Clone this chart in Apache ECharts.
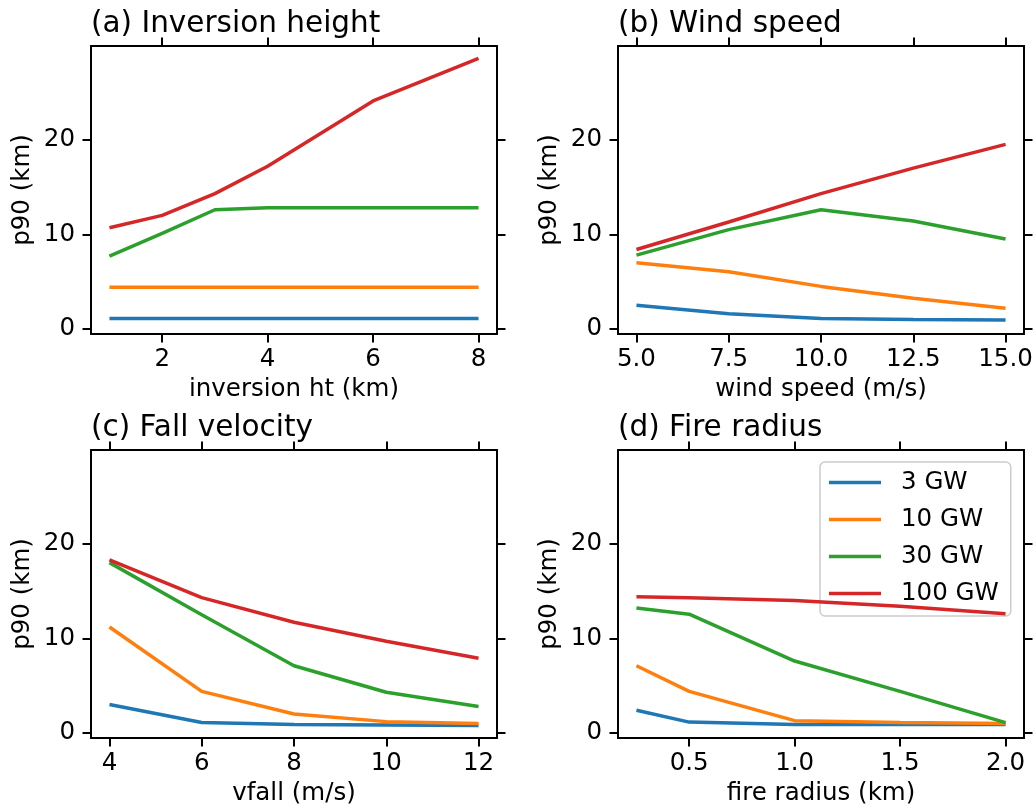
<!DOCTYPE html>
<html>
<head>
<meta charset="utf-8">
<script src="https://cdn.jsdelivr.net/npm/echarts@6/dist/echarts.min.js"></script>
<style>
html,body{margin:0;padding:0;background:#fff;}
#chart{width:1036px;height:809px;}
</style>
</head>
<body>
<div id="chart"></div>
<script>
// ---- data ----
const SERIES_NAMES = ['3 GW', '10 GW', '30 GW', '100 GW'];
const COLORS = ['#1f77b4', '#ff7f0e', '#2ca02c', '#d62728'];

const PANEL_TITLES = ['(a) Inversion height', '(b) Wind speed', '(c) Fall velocity', '(d) Fire radius'];
const X_NAMES = ['inversion ht (km)', 'wind speed (m/s)', 'vfall (m/s)', 'fire radius (km)'];
const Y_NAME = 'p90 (km)';

// (a) inversion height
const INV_HT = [1, 2, 3, 4, 6, 8];
const INV_3GW = [1.1, 1.1, 1.1, 1.1, 1.1, 1.1];
const INV_10GW = [4.4, 4.4, 4.4, 4.4, 4.4, 4.4];
const INV_30GW = [7.7, 10.1, 12.6, 12.8, 12.8, 12.8];
const INV_100GW = [10.7, 12.0, 14.3, 17.2, 24.1, 28.6];

// (b) wind speed
const WIND = [5, 7.5, 10, 12.5, 15];
const WIND_3GW = [2.5, 1.6, 1.1, 1.0, 0.95];
const WIND_10GW = [7.0, 6.05, 4.5, 3.25, 2.2];
const WIND_30GW = [7.8, 10.5, 12.6, 11.4, 9.5];
const WIND_100GW = [8.4, 11.3, 14.3, 17.0, 19.5];

// (c) fall velocity
const VFALL = [4, 6, 8, 10, 12];
const VFALL_3GW = [3.0, 1.1, 0.9, 0.85, 0.8];
const VFALL_10GW = [11.2, 4.4, 2.0, 1.2, 1.0];
const VFALL_30GW = [18.0, 12.5, 7.1, 4.3, 2.8];
const VFALL_100GW = [18.3, 14.3, 11.7, 9.7, 7.9];

// (d) fire radius
const RADIUS = [0.25, 0.5, 1.0, 1.5, 2.0];
const RADIUS_3GW = [2.4, 1.15, 0.9, 0.9, 0.9];
const RADIUS_10GW = [7.1, 4.4, 1.3, 1.1, 1.0];
const RADIUS_30GW = [13.2, 12.55, 7.6, 4.4, 1.1];
const RADIUS_100GW = [14.4, 14.3, 14.0, 13.4, 12.6];

// tick labels
const Y_TICKS = [0, 10, 20];
const X_TICKS_A = [2, 4, 6, 8];
const X_TICKS_B = [5, 7.5, 10, 12.5, 15];
const X_TICKS_C = [4, 6, 8, 10, 12];
const X_TICKS_D = [0.5, 1.0, 1.5, 2.0];

// axis ranges
const Y_RANGE = [-0.53, 29.9];
const X_RANGES = [[0.65, 8.35], [4.5, 15.5], [3.6, 12.4], [0.1625, 2.0875]];

// ---- layout ----
const FONT = 'DejaVu Sans';
const TICK_FS = 24.5;
const TITLE_FS = 29.5;
const GRIDS = [
  {left: 91, top: 46, width: 406, height: 288},
  {left: 618, top: 46, width: 406, height: 288},
  {left: 91, top: 450, width: 406, height: 288},
  {left: 618, top: 450, width: 406, height: 288}
];
const panels = [
  {x: INV_HT, ys: [INV_3GW, INV_10GW, INV_30GW, INV_100GW], ticks: X_TICKS_A, dec: 0},
  {x: WIND, ys: [WIND_3GW, WIND_10GW, WIND_30GW, WIND_100GW], ticks: X_TICKS_B, dec: 1},
  {x: VFALL, ys: [VFALL_3GW, VFALL_10GW, VFALL_30GW, VFALL_100GW], ticks: X_TICKS_C, dec: 0},
  {x: RADIUS, ys: [RADIUS_3GW, RADIUS_10GW, RADIUS_30GW, RADIUS_100GW], ticks: X_TICKS_D, dec: 1}
];

const grid = [], xAxis = [], yAxis = [], series = [], title = [];
const lineW = 2;
const tickLen = 8.5;

panels.forEach((p, i) => {
  grid.push(Object.assign({containLabel: false, show: false}, GRIDS[i]));
  title.push({
    text: PANEL_TITLES[i], left: GRIDS[i].left, top: GRIDS[i].top - 37, padding: 0,
    textStyle: {fontFamily: FONT, fontSize: TITLE_FS, fontWeight: 'normal', color: '#000'}
  });
  const common = (pos) => ({
    axisLine: {show: true, onZero: false, lineStyle: {color: '#000', width: lineW}},
    splitLine: {show: false}
  });
  // bottom x
  xAxis.push(Object.assign(common(), {
    type: 'value', gridIndex: i, position: 'bottom', min: X_RANGES[i][0], max: X_RANGES[i][1],
    name: X_NAMES[i], nameLocation: 'middle', nameGap: 43,
    nameTextStyle: {fontFamily: FONT, fontSize: TICK_FS, color: '#000'},
    axisTick: {show: true, length: tickLen, lineStyle: {color: '#000', width: lineW}, customValues: p.ticks},
    axisLabel: {show: true, margin: 13, fontFamily: FONT, fontSize: TICK_FS, color: '#000', customValues: p.ticks,
      formatter: (v) => Number(v).toFixed(p.dec), hideOverlap: false, showMinLabel: true, showMaxLabel: true}
  }));
  // top x
  xAxis.push(Object.assign(common(), {
    type: 'value', gridIndex: i, position: 'top', min: X_RANGES[i][0], max: X_RANGES[i][1],
    axisTick: {show: true, length: tickLen, lineStyle: {color: '#000', width: lineW}, customValues: p.ticks},
    axisLabel: {show: false}
  }));
  // left y
  yAxis.push(Object.assign(common(), {
    type: 'value', gridIndex: i, position: 'left', min: Y_RANGE[0], max: Y_RANGE[1],
    name: Y_NAME, nameLocation: 'middle', nameGap: 56, nameRotate: 90,
    nameTextStyle: {fontFamily: FONT, fontSize: TICK_FS, color: '#000'},
    axisTick: {show: true, length: tickLen, lineStyle: {color: '#000', width: lineW}, customValues: Y_TICKS},
    axisLabel: {show: true, margin: 16, fontFamily: FONT, fontSize: TICK_FS, color: '#000', customValues: Y_TICKS}
  }));
  // right y
  yAxis.push(Object.assign(common(), {
    type: 'value', gridIndex: i, position: 'right', min: Y_RANGE[0], max: Y_RANGE[1],
    axisTick: {show: true, length: tickLen, lineStyle: {color: '#000', width: lineW}, customValues: Y_TICKS},
    axisLabel: {show: false}
  }));
  p.ys.forEach((ys, k) => {
    series.push({
      type: 'line', name: SERIES_NAMES[k], xAxisIndex: 2 * i, yAxisIndex: 2 * i,
      data: p.x.map((xv, j) => [xv, ys[j]]),
      symbol: 'none', showSymbol: false, smooth: false,
      lineStyle: {color: COLORS[k], width: 3.5},
      itemStyle: {color: COLORS[k]},
      z: 2 + k
    });
  });
});

const option = {
  animation: false,
  backgroundColor: '#fff',
  title: title,
  grid: grid,
  xAxis: xAxis,
  yAxis: yAxis,
  legend: {
    data: SERIES_NAMES, orient: 'vertical', left: 820, top: 462,
    icon: 'rect', itemWidth: 52, itemHeight: 3.5, itemGap: 12,
    padding: [8, 12, 10, 9],
    backgroundColor: 'rgba(255,255,255,0.8)', borderColor: '#cccccc', borderWidth: 1.5, borderRadius: 5,
    textStyle: {fontFamily: FONT, fontSize: TICK_FS, color: '#000', padding: [0, 0, 0, 15]},
    selectedMode: false
  },
  series: series
};

const chart = echarts.init(document.getElementById('chart'), null, {renderer: 'canvas'});
chart.setOption(option);
</script>
</body>
</html>
